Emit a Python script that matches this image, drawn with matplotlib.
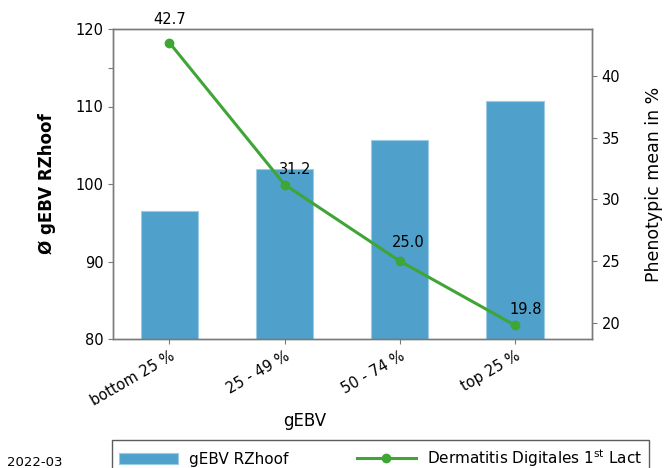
import numpy as np
import matplotlib
matplotlib.use("Agg")
import matplotlib.pyplot as plt

# data
categories   = ["bottom 25 %", "25 - 49 %", "50 - 74 %", "top 25 %"]
gebv_rzhoof  = [96.5, 102.0, 105.7, 110.7]
dd_pheno     = [42.7, 31.2, 25.0, 19.8]
date_text    = "2022-03"

BAR_COL   = "#4fa0cb"
LINE_COL  = "#3fa535"
SPINE_COL = "#7a7a7a"

plt.rcParams['font.family'] = ['DejaVu Sans']
plt.rcParams['mathtext.fontset'] = 'dejavusans'

fig = plt.figure(figsize=(6.67, 4.68), dpi=100)
ax = fig.add_axes([113/667, 1-339/468, (592-113)/667, (339-29)/468])
ax2 = ax.twinx()

x = np.arange(len(categories))
ax.bar(x, gebv_rzhoof, width=0.5, color=BAR_COL, edgecolor="#9ccbe4",
       linewidth=0.8, label="gEBV RZhoof", zorder=2)
ax.set_ylim(80, 120)
ax.set_xlim(-0.49, 3.67)
ax.set_yticks([80, 90, 100, 110, 120])
ax.set_yticks([115], minor=True)
ax.set_xticks(x)
ax.set_xticklabels(categories, rotation=30, ha="right", rotation_mode="anchor")
ax.tick_params(axis="both", labelsize=10.5, colors=SPINE_COL, labelcolor="black")
ax.tick_params(axis="y", which="minor", colors=SPINE_COL, length=3.5, width=0.8)
ax.set_ylabel("Ø gEBV RZhoof", fontsize=12, fontweight="bold", labelpad=14)
ax.set_xlabel("gEBV", fontsize=12)
ax.xaxis.set_label_coords((305-113)/479, -0.235)

ax2.plot(x, dd_pheno, color=LINE_COL, linewidth=2.2, marker="o", markersize=6,
         label="Dermatitis Digitales 1$^{\\mathrm{st}}$ Lact", zorder=3)
ax2.set_ylim(18.68, 43.81)
ax2.set_yticks([20, 25, 30, 35, 40])
ax2.tick_params(axis="y", labelsize=10.5, colors=SPINE_COL, labelcolor="black")
ax2.set_ylabel("Phenotypic mean in %", fontsize=12.5, labelpad=18)

# value labels
x_off = [0, 8, 6, 8]
y_off = [17, 11, 13, 11]
for xi, v, dx, dy in zip(x, dd_pheno, x_off, y_off):
    ax2.annotate(f"{v:.1f}", (xi, v), xytext=(dx, dy), textcoords="offset points",
                 ha="center", va="center", fontsize=10.5)

for a in (ax, ax2):
    for s in a.spines.values():
        s.set_color(SPINE_COL)
        s.set_linewidth(1.0)

h1, l1 = ax.get_legend_handles_labels()
h2, l2 = ax2.get_legend_handles_labels()
leg = fig.legend(h1 + h2, l1 + l2, loc="upper left", ncol=2, mode="expand",
                 bbox_to_anchor=(112/667, 1-440/468, (649-112)/667, 0),
                 borderaxespad=0, fancybox=False, edgecolor="#333333",
                 fontsize=11, handlelength=3.9, handletextpad=0.7,
                 borderpad=0.45)
leg.get_frame().set_linewidth(1.0)

fig.text(7/667, 1-462/468, date_text, fontsize=9.5, va="center", ha="left")

fig.savefig("out.png", dpi=100)
